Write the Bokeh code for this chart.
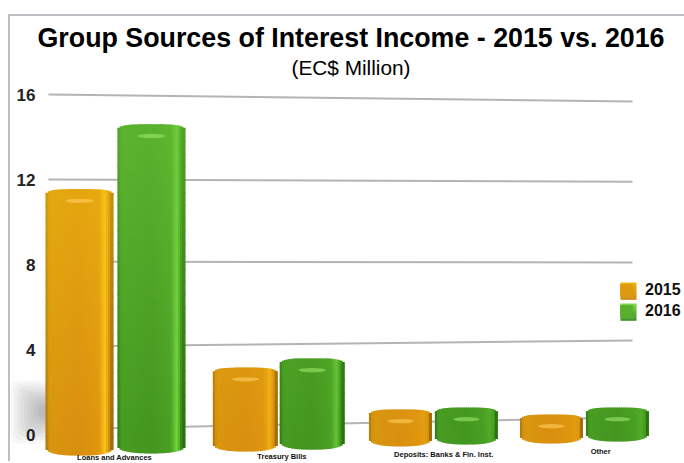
from bokeh.plotting import figure
from bokeh.embed import file_html
from bokeh.resources import INLINE
from bokeh.models import Range1d, FixedTicker, Title, Legend, LegendItem, BoxAnnotation, ColumnDataSource
from bokeh.core.properties import value

# ---- data ----
categories = ["Loans and Advances", "Treasury Bills", "Deposits: Banks & Fin. Inst.", "Other"]
series_names = ["2015", "2016"]
values_2015 = [11.55, 3.15, 1.18, 0.94]
values_2016 = [14.6, 3.58, 1.27, 1.27]
y_ticks = [0, 4, 8, 12, 16]
title_text = "Group Sources of Interest Income - 2015 vs. 2016"
subtitle_text = "(EC$ Million)"

# ---- perspective of the 3-D look (layout, not data) ----
floor_2015 = [-0.99, -0.80, -0.56, -0.42]
floor_2016 = [-0.89, -0.71, -0.47, -0.33]
group_nudge = [0.0, 0.04, 0.025, -0.013]
half_gap = [0.229, 0.213, 0.21, 0.21]
bar_width = [0.427, 0.408, 0.395, 0.395]
grid_left = [0.24, 4.14, 8.14, 12.0, 16.0]
grid_right = [0.8, 4.42, 8.09, 11.9, 15.67]
label_shift = [-0.006, 0.06, 0.09, 0.09]
label_y = [-1.06, -1.04, -0.96, -0.8]

FONT = "Liberation Sans"
positions = [i + 0.5 for i in range(len(categories))]

ORANGE_SIDE = [(-1, "#a8740c"), (-.88, "#d8960f"), (0, "#d98f10"), (.6, "#de960f"), (.78, "#ffc41c"), (.9, "#d08c0e"), (1, "#8a5c06")]
GREEN_SIDE = [(-1, "#2f7512"), (-.88, "#479c22"), (0, "#43961f"), (.6, "#4aa024"), (.78, "#74d83e"), (.9, "#3a8c1a"), (1, "#226409")]


def hex2rgb(h):
    return tuple(int(h[i:i + 2], 16) for i in (1, 3, 5))


def mix(a, b, f):
    return [a[k] * (1 - f) + b[k] * f for k in range(3)]


def to_hex(c):
    return "#%02x%02x%02x" % tuple(int(round(x)) for x in c)


def shade(stops, u, v, top_tint, strength):
    for (a, ca), (b, cb) in zip(stops, stops[1:]):
        if a <= u <= b:
            c = mix(hex2rgb(ca), hex2rgb(cb), (u - a) / (b - a))
            break
    if 0.6 < u < 0.9:
        c = mix(hex2rgb(stops[3][1]), c, strength)
    f = max(0.0, min(1.0, v / 14.0)) * 0.55
    return to_hex(mix(c, top_tint, f))


p = figure(width=674, height=447, output_backend="svg", toolbar_location=None,
           x_range=Range1d((10 - 36.5) / 157, (684 - 36.5) / 157),
           y_range=Range1d(-1.27, 16.565),
           frame_width=674, frame_height=379,
           min_border_left=0, min_border_right=0, min_border_bottom=0, min_border_top=66,
           title=None)
p.styles = {"border-top": "2px solid #bcc0c4", "border-left": "2px solid #bcc0c4",
            "position": "relative", "left": "8px", "top": "14px"}
p.outline_line_color = None
p.grid.visible = False
p.xaxis.visible = False
p.yaxis.ticker = FixedTicker(ticks=y_ticks)
p.yaxis.axis_line_color = None
p.yaxis.major_tick_line_color = None
p.yaxis.minor_tick_line_color = None
p.yaxis.major_label_standoff = -31
p.yaxis.major_label_text_font = FONT
p.yaxis.major_label_text_font_style = "bold"
p.yaxis.major_label_text_font_size = "17px"
p.yaxis.major_label_text_color = "#222222"

main_title = Title(text=title_text, text_font=FONT, text_font_style="bold", text_font_size="26.8px",
                   text_color="#000000", align="left", offset=27, standoff=-4)
sub_title = Title(text=subtitle_text, text_font=FONT, text_font_style="normal", text_font_size="20.8px",
                  text_color="#000000", align="left", offset=281, standoff=7)
p.add_layout(sub_title, "above")
p.add_layout(main_title, "above")

# soft shadow at the foot of the first bar
for i in range(9):
    p.add_layout(BoxAnnotation(left=i * 3.4, right=40, top=81 - i * 3, bottom=18 + i * 3.2,
                               left_units="screen", right_units="screen", top_units="screen", bottom_units="screen",
                               fill_color="#000000", fill_alpha=0.032, line_color=None, level="underlay",
                               border_radius=8))

# sloping grid lines
p.segment(x0=[positions[0] - 0.427] * len(y_ticks), x1=[positions[-1] + 0.293] * len(y_ticks),
          y0=grid_left, y1=grid_right, line_color="#b4b4b4", line_width=2)

renderers = []
for sign, vals, floors, side, tint, glow, solid in (
        (-1, values_2015, floor_2015, ORANGE_SIDE, hex2rgb("#f2c010"), "#ffd060", "#dc9a10"),
        (1, values_2016, floor_2016, GREEN_SIDE, hex2rgb("#6cc63a"), "#9ce86a", "#5aaf2e")):
    xs = [c + n + sign * g for c, n, g in zip(positions, group_nudge, half_gap)]
    base = p.vbar(x=xs, top=[v - 0.3 for v in vals], bottom=[f + 0.3 for f in floors], width=[w * 0.98 for w in bar_width],
                  fill_color=solid, line_color=None)
    renderers.append(base)
    cols = dict(x=[], w=[], top=[], bottom=[], color=[])
    N = 30
    for x0, v, f, w in zip(xs, vals, floors, bar_width):
        strength = min(1.0, max(0.12, (v - 0.8) / 5.0 + 0.1))
        for i in range(N):
            u = -1 + (i + .5) * 2 / N
            hi = v - 0.36 * (1 - (1 - abs(u) ** 3.5) ** (1 / 3.5))
            lo = f + 0.42 * (1 - (1 - abs(u) ** 2.6) ** (1 / 2.6))
            y = lo
            while y < hi:
                nxt = min(hi, y + 0.6)
                cols["x"].append(x0 + u * w / 2)
                cols["w"].append(w / N * 1.5)
                cols["top"].append(min(hi, nxt + 0.05))
                cols["bottom"].append(y)
                cols["color"].append(shade(side, u, (y + nxt) / 2, tint, strength))
                y = nxt
    p.vbar(x="x", width="w", top="top", bottom="bottom", fill_color="color", line_color=None,
           source=ColumnDataSource(cols))
    # highlight near the top of each cylinder
    p.ellipse(x=xs, y=[v - 0.55 for v in vals], width=[w * 0.42 for w in bar_width], height=0.2,
              fill_color=glow, fill_alpha=0.6, line_color=None)

# category labels
p.text(x=[c + s for c, s in zip(positions, label_shift)], y=label_y, text=categories,
       text_font=value(FONT), text_font_style="bold", text_font_size="7.5px", text_color="#111111",
       text_align="center", text_baseline="middle")

legend = Legend(items=[LegendItem(label=n, renderers=[r]) for n, r in zip(series_names, renderers)],
                location=(608, 141), orientation="vertical", glyph_width=16, glyph_height=16,
                label_standoff=11, spacing=3, padding=0, margin=0, background_fill_alpha=0,
                border_line_color=None, label_text_font=FONT, label_text_font_style="bold",
                label_text_font_size="16px", label_text_color="#111111")
p.add_layout(legend, "center")

# gradient over the legend swatches
for top_px, c_top, c_bot in ((179, "#e9b40c", "#cf8810"), (158, "#7ed448", "#3f9428")):
    for k in range(8):
        p.add_layout(BoxAnnotation(left=610, right=626, top=top_px - k * 2.125, bottom=top_px - (k + 1) * 2.125 - 0.3,
                                   left_units="screen", right_units="screen", top_units="screen", bottom_units="screen",
                                   fill_color=to_hex(mix(hex2rgb(c_top), hex2rgb(c_bot), k / 7)), fill_alpha=1,
                                   line_color=None, level="overlay"))

open("out.html", "w").write(file_html(p, INLINE))
